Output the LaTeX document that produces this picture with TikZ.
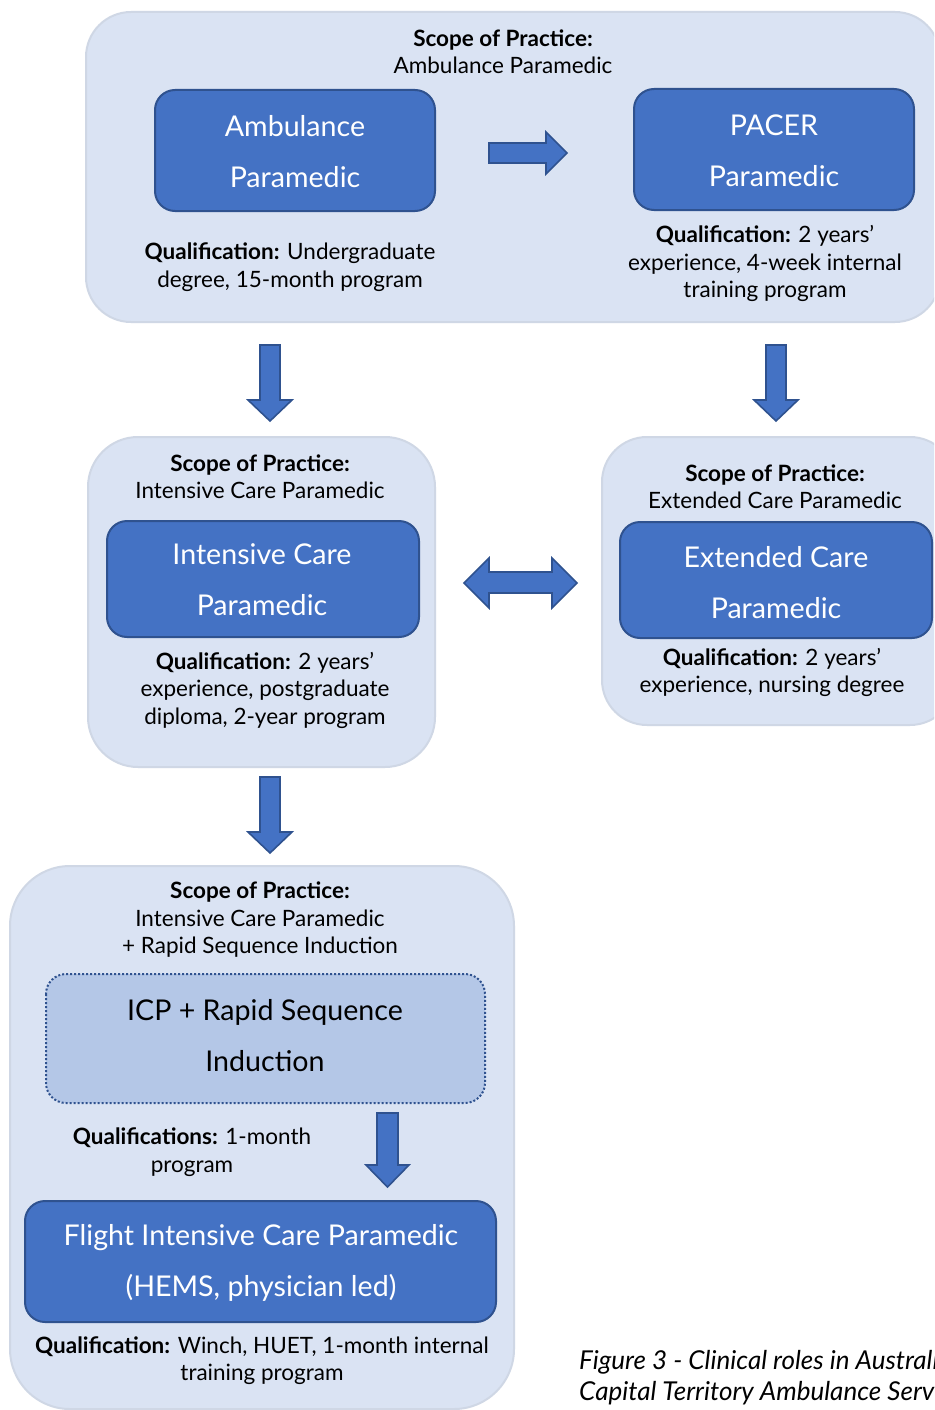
\documentclass[tikz,border=0pt]{standalone}
\usepackage{fontspec}
\setmainfont{Lato}
\definecolor{contfill}{HTML}{DAE3F3}
\definecolor{contdraw}{HTML}{CFD7E5}
\definecolor{boxfill}{HTML}{4472C4}
\definecolor{boxdraw}{HTML}{2F528F}
\definecolor{dotfill}{HTML}{B4C7E7}
\tikzset{
  container/.style={fill=contfill, draw=contdraw, line width=2pt},
  rolebox/.style={fill=boxfill, draw=boxdraw, line width=2pt, rounded corners=20pt},
  dotbox/.style={fill=dotfill, draw=boxdraw, line width=2pt, dotted, rounded corners=20pt},
  blockarrow/.style={fill=boxfill, draw=boxdraw, line width=1.6pt, line join=miter},
  smalltxt/.style={inner sep=0pt, align=center, font=\fontsize{22.5}{27.5}\selectfont, text=black},
  bigtxt/.style={inner sep=0pt, align=center, font=\fontsize{28.6}{51}\selectfont, text=white},
  captxt/.style={inner sep=0pt, align=left, anchor=west, font=\fontsize{26}{31}\selectfont\itshape, text=black}
}
\begin{document}
\begin{tikzpicture}[x=1pt, y=-1pt]
\clip (0,0) rectangle (934,1410);
\fill[white] (0,0) rectangle (934,1410);

% ---------- top container ----------
\draw[container, rounded corners=45pt] (86,12) rectangle (940,322);
\node[smalltxt] (scope1) at (503,51.5) {\textbf{Scope of Practice:}\\Ambulance Paramedic};
\draw[rolebox] (155,90) rectangle (435,211);
\node[bigtxt] (amb) at (295,151.5) {Ambulance\\Paramedic};
\draw[rolebox] (634,89) rectangle (914,210);
\node[bigtxt] (pacer) at (774,150.5) {PACER\\Paramedic};
\node[smalltxt] (qamb) at (290,267) {\textbf{Qualification:} Undergraduate\\degree, 15-month program};
\node[smalltxt] (qpacer) at (765,263.5) {\textbf{Qualification:} 2 years’\\experience, 4-week internal\\training program};
\draw[blockarrow] (489,143) -- (546,143) -- (546,132) -- (567,153) -- (546,174) -- (546,163) -- (489,163) -- cycle;

% ---------- down arrows from top ----------
\draw[blockarrow] (260,345) -- (280,345) -- (280,400) -- (292,400) -- (270,421) -- (248,400) -- (260,400) -- cycle;
\draw[blockarrow] (766,345) -- (786,345) -- (786,400) -- (798,400) -- (776,421) -- (754,400) -- (766,400) -- cycle;

% ---------- ICP container ----------
\draw[container, rounded corners=50pt] (88,437) rectangle (435,767);
\node[smalltxt] (scope2) at (260,476.5) {\textbf{Scope of Practice:}\\Intensive Care Paramedic};
\draw[rolebox] (107,521) rectangle (419,637);
\node[bigtxt] (icp) at (262,579.5) {Intensive Care\\Paramedic};
\node[smalltxt] (qicp) at (265,690) {\textbf{Qualification:} 2 years’\\experience, postgraduate\\diploma, 2-year program};

% ---------- double arrow ----------
\draw[blockarrow] (464,583) -- (489,558) -- (489,572) -- (552,572) -- (552,558) -- (577,583) -- (552,608) -- (552,593) -- (489,593) -- (489,608) -- cycle;

% ---------- ECP container ----------
\draw[container, rounded corners=45pt] (602,437) rectangle (955,725);
\node[smalltxt] (scope3) at (775,486.5) {\textbf{Scope of Practice:}\\Extended Care Paramedic};
\draw[rolebox] (620,522) rectangle (932,638);
\node[bigtxt] (ecp) at (776,583) {Extended Care\\Paramedic};
\node[smalltxt] (qecp) at (772,672.5) {\textbf{Qualification:} 2 years’\\experience, nursing degree};

% ---------- down arrow from ICP ----------
\draw[blockarrow] (260,777) -- (280,777) -- (280,832) -- (292,832) -- (270,853) -- (248,832) -- (260,832) -- cycle;

% ---------- bottom container ----------
\draw[container, rounded corners=60pt] (10,866) rectangle (514,1409);
\node[smalltxt] (scope4) at (260,920) {\textbf{Scope of Practice:}\\Intensive Care Paramedic\\+ Rapid Sequence Induction};
\draw[dotbox] (46,974) rectangle (485,1103);
\node[bigtxt, text=black] (rsi) at (265,1035.5) {ICP + Rapid Sequence\\Induction};
\node[smalltxt] (qrsi) at (192,1152) {\textbf{Qualifications:} 1-month\\program};
\draw[blockarrow] (377,1113) -- (398,1113) -- (398,1165) -- (409,1165) -- (387.5,1187) -- (366,1165) -- (377,1165) -- cycle;
\draw[rolebox] (25,1201) rectangle (496,1322);
\node[bigtxt] (ficp) at (261,1262.5) {Flight Intensive Care Paramedic\\(HEMS, physician led)};
\node[smalltxt] (qficp) at (262,1360.5) {\textbf{Qualification:} Winch, HUET, 1-month internal\\training program};

% ---------- caption (cut off at the right edge, as in the reference) ----------
\node[captxt] (cap) at (579,1377.5) {Figure 3 - Clinical roles in Australian\\Capital Territory Ambulance Service};
\end{tikzpicture}
\end{document}
